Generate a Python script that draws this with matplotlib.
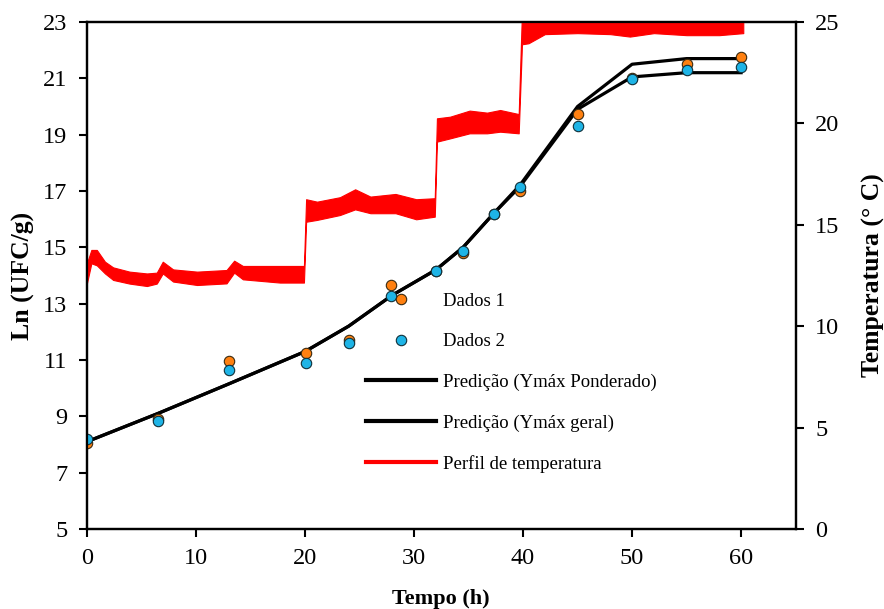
import matplotlib
matplotlib.use("Agg")
import matplotlib.pyplot as plt
from matplotlib.lines import Line2D

plt.rcParams["font.family"] = ["Liberation Serif", "DejaVu Serif"]

# ---------------------------------------------------------------------------
# Data
# ---------------------------------------------------------------------------
data_t = [0, 6.5, 13, 20.1, 24, 27.9, 32, 34.5, 37.3, 39.7, 45, 50, 55, 60]
dados1 = [8.05, 8.9, 10.95, 11.26, 11.7, 13.66, 14.15, 14.8, 16.2, 17.0,
          19.72, 21.0, 21.5, 21.77]
dados2 = [8.2, 8.83, 10.64, 10.9, 11.62, 13.28, 14.16, 14.87, 16.2, 17.15,
          19.32, 20.96, 21.28, 21.41]

pred_t = [0, 6.5, 13, 20, 24, 28, 32, 34.5, 37.3, 39.7, 45, 50, 55, 60]
pred_pond = [8.1, 9.1, 10.15, 11.3, 12.2, 13.3, 14.2, 15.0, 16.2, 17.2,
             20.0, 21.5, 21.7, 21.7]
pred_geral = [8.1, 9.1, 10.15, 11.3, 12.2, 13.3, 14.2, 15.0, 16.2, 17.15,
              19.9, 21.05, 21.2, 21.2]

# temperature profile: upper / lower edge of the noisy band (deg C)
temp_t = [0.0, 0.4, 0.9, 1.65, 2.4, 3.9, 5.5, 6.4, 6.95, 7.9, 10.1, 12.8,
          13.5, 14.3, 17.7, 19.9, 20.1, 21.1, 23.2, 24.6, 26.0, 28.3, 30.2,
          31.9, 32.1, 33.3, 35.1, 36.7, 37.9, 39.6, 39.9, 40.5, 41.0, 42.0,
          45.0, 48.0, 49.8, 52.0, 55.0, 58.0, 60.2]
temp_hi = [13.12, 13.76, 13.76, 13.18, 12.9, 12.69, 12.6, 12.64, 13.18, 12.8,
           12.69, 12.77, 13.23, 12.97, 12.97, 12.97, 16.26, 16.14, 16.36,
           16.75, 16.39, 16.52, 16.26, 16.31, 20.25, 20.33, 20.63, 20.53,
           20.66, 20.46, 25.5, 25.5, 25.5, 25.5, 25.5, 25.5, 25.5, 25.5,
           25.5, 25.5, 25.5]
temp_lo = [12.13, 13.1, 13.0, 12.6, 12.28, 12.1, 11.98, 12.1, 12.6, 12.2,
           12.03, 12.11, 12.64, 12.31, 12.15, 12.15, 15.15, 15.24, 15.48,
           15.76, 15.57, 15.57, 15.27, 15.4, 19.1, 19.26, 19.51, 19.51,
           19.59, 19.51, 23.9, 23.95, 24.1, 24.4, 24.45, 24.4, 24.28, 24.45,
           24.35, 24.35, 24.45]

x_ticks = [0, 10, 20, 30, 40, 50, 60]
y_ticks = [5, 7, 9, 11, 13, 15, 17, 19, 21, 23]
t_ticks = [0, 5, 10, 15, 20, 25]

# ---------------------------------------------------------------------------
# Plot
# ---------------------------------------------------------------------------
BLUE = "#1EB4E6"
ORANGE = "#FF8010"
RED = "#FF0000"

fig = plt.figure(figsize=(8.84, 6.09), dpi=100)
ax = fig.add_axes([0.0984, 0.1314, 0.8016, 0.8325])
ax2 = ax.twinx()

ax2.fill_between(temp_t, temp_lo, temp_hi, color=RED, lw=0.8, edgecolor=RED)

ax.plot(pred_t, pred_pond, color="black", lw=2.3, zorder=3)
ax.plot(pred_t, pred_geral, color="black", lw=2.3, zorder=3)
ax.plot(data_t, dados1, "o", ms=7.5, mfc=ORANGE, mec="#3a2a10", mew=0.8, zorder=4)
ax.plot(data_t, dados2, "o", ms=7.5, mfc=BLUE, mec="#10303a", mew=0.8, zorder=5)

ax.set_xlim(0, 65)
ax.set_ylim(5, 23)
ax2.set_ylim(0, 25)
ax.set_xticks(x_ticks)
ax.set_yticks(y_ticks)
ax2.set_yticks(t_ticks)

for a in (ax, ax2):
    for s in a.spines.values():
        s.set_linewidth(1.6)
    a.tick_params(labelsize=17.5, width=1.5, length=6, pad=8, direction="out")

ax.set_xlabel("Tempo (h)", fontsize=16, fontweight="bold", labelpad=14)
ax.set_ylabel("Ln (UFC/g)", fontsize=18.5, fontweight="bold", labelpad=6)
ax2.set_ylabel("Temperatura (° C)", fontsize=18.5, fontweight="bold", labelpad=16)

handles = [
    Line2D([], [], ls="none", marker="o", ms=7.5, mfc=ORANGE, mec="#3a2a10", mew=0.8),
    Line2D([], [], ls="none", marker="o", ms=7.5, mfc=BLUE, mec="#10303a", mew=0.8),
    Line2D([], [], color="black", lw=3),
    Line2D([], [], color="black", lw=3),
    Line2D([], [], color=RED, lw=3),
]
labels = ["Dados 1", "Dados 2", "Predição (Ymáx Ponderado)",
          "Predição (Ymáx geral)", "Perfil de temperatura"]
ax2.legend(handles, labels, loc="upper left", bbox_to_anchor=(0.406, 0.532),
           bbox_transform=fig.transFigure, frameon=False, fontsize=13.5,
           handlelength=3.7, handletextpad=0.4, labelspacing=1.25,
           numpoints=1, borderaxespad=0)

fig.savefig("out.png", dpi=100)
